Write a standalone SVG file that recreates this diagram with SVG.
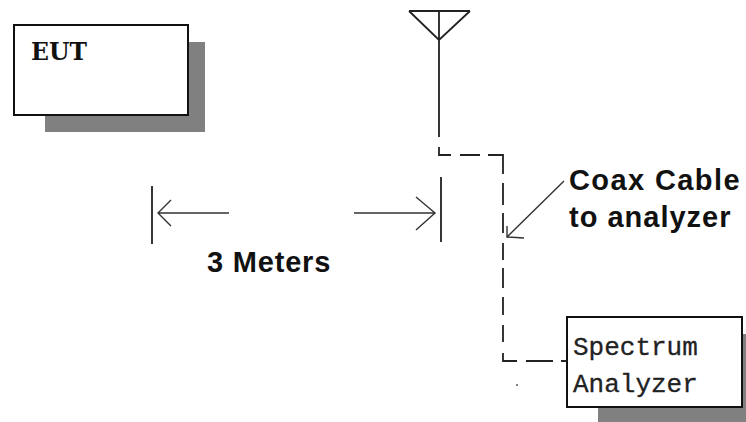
<svg xmlns="http://www.w3.org/2000/svg" width="746" height="422" viewBox="0 0 746 422">
<style>
.shadow{fill:#808080}
.box{fill:#fff;stroke:#111;stroke-width:2}
.ln{fill:none;stroke:#222;stroke-width:1.8}
.thin{fill:none;stroke:#333;stroke-width:1.4}
.lbl{font-family:"Liberation Sans",Arial,sans-serif;font-weight:bold;fill:#111;font-size:29px}
.mono{font-family:"Liberation Mono","Courier New",monospace;fill:#222;font-size:26px;stroke:#222;stroke-width:.3}
</style>
<rect width="746" height="422" fill="#fff"/>
<g id="eut">
<rect class="shadow" x="45" y="42" width="160" height="90"/>
<rect class="box" x="14" y="25" width="174" height="90"/>
<text x="31" y="60" font-family="'DejaVu Serif',serif" font-weight="bold" font-size="23.5" fill="#111">EUT</text>
</g>
<g id="antenna">
<path class="ln" d="M409 11H470M409 11L439 40L470 11M439 11V137"/>
</g>
<g id="spectrum-analyzer">
<rect class="shadow" x="598" y="334" width="148" height="88"/>
<rect class="box" x="567" y="317" width="175" height="90"/>
<text class="mono" x="573" y="355">Spectrum</text>
<text class="mono" x="573" y="392">Analyzer</text>
</g>
<g id="connectors">
<path class="ln" d="M439 147V155H451M460 155H480M488 155H503V174M503 183V205M503 213V233M503 243V260M503 268V288M503 297V315M503 325V342M503 353V361H517M526 361H553M561 361H567"/>
<path class="thin" d="M564 181L507 237M507 226V237L524 238"/>
<path class="ln" d="M152 186V244M441 177V242"/>
<path class="thin" d="M229 213H158M171 200L158 213L171 226M354 213H435M416 197L435 213L416 230"/>
<circle cx="517" cy="385" r="0.9" fill="#444"/>
</g>
<g id="labels">
<text class="lbl" x="569" y="190" letter-spacing="1.4">Coax Cable</text>
<text class="lbl" x="569" y="227" letter-spacing="1">to analyzer</text>
<text class="lbl" x="207" y="272" letter-spacing="0.8">3 Meters</text>
</g>
</svg>
